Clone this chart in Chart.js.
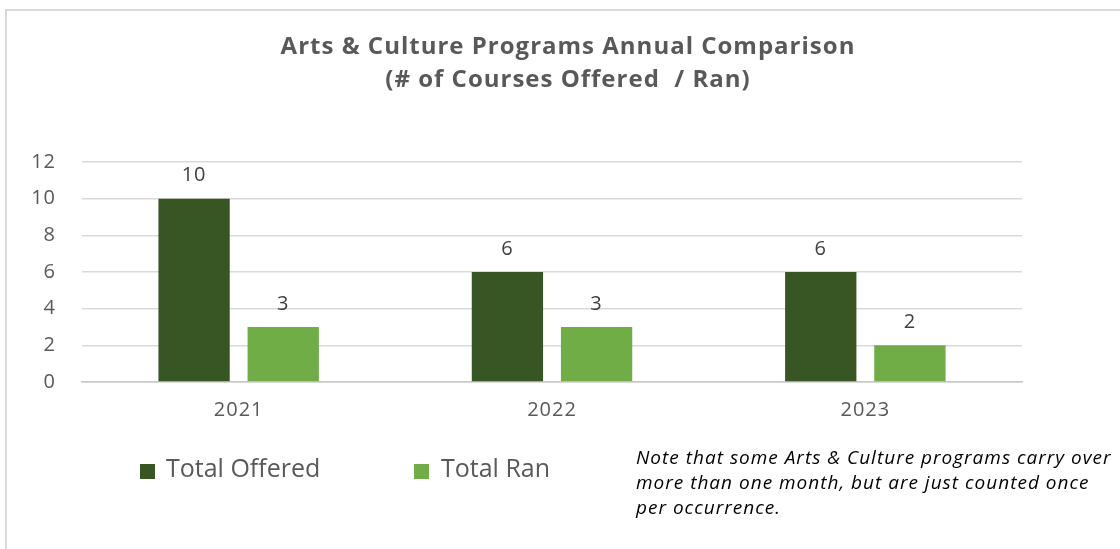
<!DOCTYPE html>
<html>
<head>
<meta charset="utf-8">
<script src="https://cdn.jsdelivr.net/npm/chart.js@4"></script>
<style>
  html, body { margin:0; padding:0; background:#fff; }
  #wrap { position:relative; width:1120px; height:549px; overflow:hidden; background:#fff; }
  #frame { position:absolute; left:5px; top:9px; width:1200px; height:700px; border:2px solid #d9d9d9; box-sizing:border-box; }
  #c { position:absolute; left:0; top:0; }
  .lg { position:absolute; font-family:"Open Sans", sans-serif; font-size:25px; color:#595959; line-height:30px; white-space:nowrap; }
  .lgbox { position:absolute; width:15px; height:15px; }
  #note { position:absolute; left:636px; top:445px; font-family:"Open Sans", sans-serif; font-style:italic; font-size:19px; letter-spacing:1px; line-height:25px; color:#000; white-space:pre; }
</style>
</head>
<body>
<div id="wrap">
  <div id="frame"></div>
  <canvas id="c" width="1120" height="549"></canvas>
  <div id="legend"></div>
  <div id="note"></div>
</div>
<script>
const categories = ["2021", "2022", "2023"];
const seriesNames = ["Total Offered", "Total Ran"];
const totalOffered = [10, 6, 6];
const totalRan = [3, 3, 2];
const seriesColors = ["#375623", "#70AD47"];
const titleLines = ["Arts & Culture Programs Annual Comparison", "(# of Courses Offered  / Ran)"];
const noteLines = ["Note that some Arts & Culture programs carry over", "more than one month, but are just counted once", "per occurrence."];
const yTicks = [0, 2, 4, 6, 8, 10, 12];

const textSpacing = {
  id: 'textSpacing',
  beforeDraw(chart) { chart.ctx.letterSpacing = '1px'; }
};

// centre the title over the whole frame rather than over the padded layout box
const titleCentre = {
  id: 'titleCentre',
  afterLayout(chart) {
    const t = chart.titleBlock;
    if (t) { t.left = 16; t.right = 1120; }
  }
};

const dataLabels = {
  id: 'dataLabels',
  afterDatasetsDraw(chart) {
    const ctx = chart.ctx;
    ctx.save();
    ctx.font = '20px "Open Sans", sans-serif';
    ctx.fillStyle = '#404040';
    ctx.textAlign = 'center';
    ctx.textBaseline = 'middle';
    chart.data.datasets.forEach((ds, i) => {
      chart.getDatasetMeta(i).data.forEach((el, j) => {
        ctx.fillText(String(ds.data[j]), el.x, el.y - 23);
      });
    });
    ctx.restore();
  }
};

const chart = new Chart(document.getElementById('c'), {
  type: 'bar',
  data: {
    labels: categories,
    datasets: [
      { label: seriesNames[0], data: totalOffered, backgroundColor: seriesColors[0], categoryPercentage: 0.569, barPercentage: 0.8 },
      { label: seriesNames[1], data: totalRan, backgroundColor: seriesColors[1], categoryPercentage: 0.569, barPercentage: 0.8 }
    ]
  },
  options: {
    responsive: false,
    animation: false,
    layout: { padding: { left: 30, right: 98, top: 0, bottom: 127 } },
    plugins: {
      legend: { display: false },
      tooltip: { enabled: false },
      title: {
        display: true,
        text: titleLines,
        color: '#595959',
        font: { family: '"Open Sans", sans-serif', weight: 'bold', size: 24, lineHeight: 1.375 },
        padding: { top: 31, bottom: 65 }
      }
    },
    scales: {
      x: {
        z: 1,
        afterFit(scale) { scale.height = 40; },
        grid: { display: false, drawTicks: false },
        border: { display: true, color: '#c8c8c8', width: 1.5 },
        ticks: { color: '#595959', font: { family: '"Open Sans", sans-serif', size: 20 }, padding: 16 }
      },
      y: {
        min: yTicks[0],
        max: yTicks[yTicks.length - 1],
        afterBuildTicks(scale) { scale.ticks = yTicks.map(v => ({ value: v })); },
        afterFit(scale) { scale.width = 52; },
        grid: { color: '#d9d9d9', lineWidth: 1.5, drawTicks: false },
        border: { display: false },
        ticks: { color: '#595959', font: { family: '"Open Sans", sans-serif', size: 20 }, padding: 26 }
      }
    }
  },
  plugins: [textSpacing, titleCentre, dataLabels]
});

// legend (HTML), built from the series arrays
const legend = document.getElementById('legend');
const lgPos = [{ box: 140, text: 166 }, { box: 414, text: 441 }];
seriesNames.forEach((name, i) => {
  const b = document.createElement('div');
  b.className = 'lgbox';
  b.style.left = lgPos[i].box + 'px';
  b.style.top = '464px';
  b.style.background = seriesColors[i];
  legend.appendChild(b);
  const t = document.createElement('div');
  t.className = 'lg';
  t.style.left = lgPos[i].text + 'px';
  t.style.top = '452px';
  t.textContent = name;
  legend.appendChild(t);
});
document.getElementById('note').textContent = noteLines.join('\n');
</script>
</body>
</html>
